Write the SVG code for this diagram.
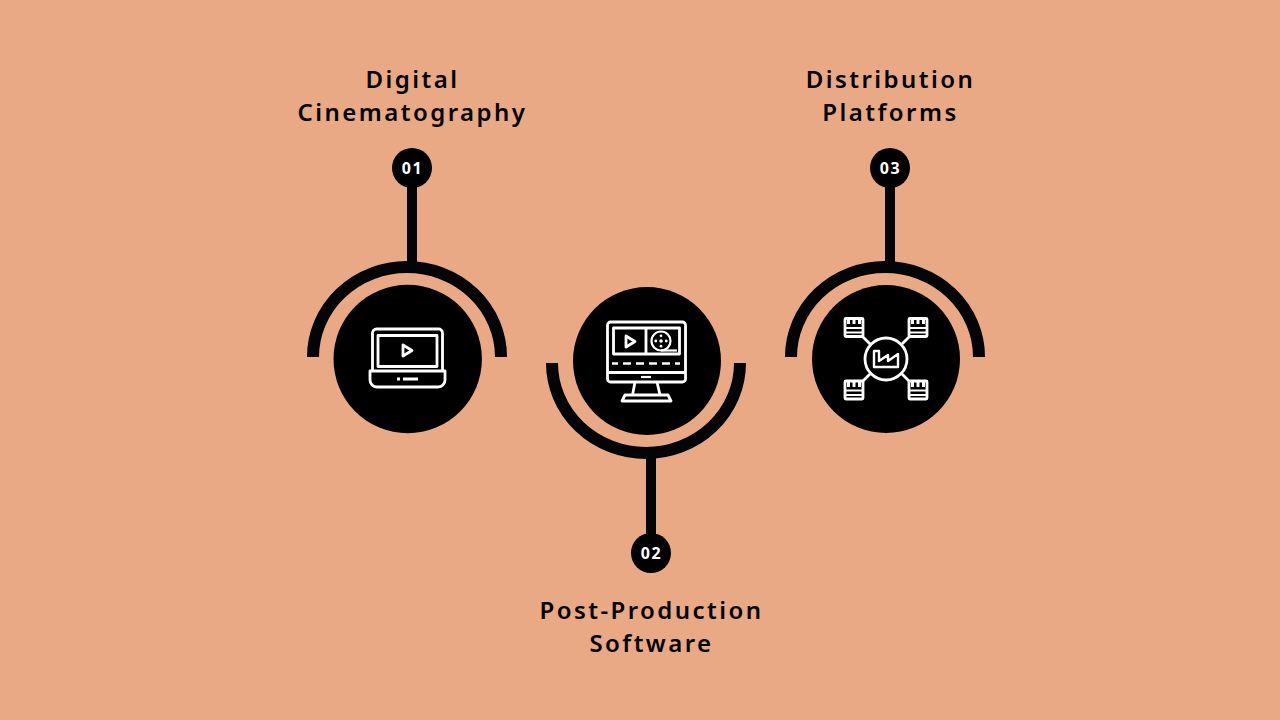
<svg xmlns="http://www.w3.org/2000/svg" width="1280" height="720" viewBox="0 0 1280 720">
<style>
.t{font-family:"Noto Sans","Open Sans",sans-serif;font-weight:600;font-size:24px;letter-spacing:2.45px;text-anchor:middle;fill:#000}
.n{font-family:"Noto Sans","Open Sans",sans-serif;font-weight:700;font-size:16px;letter-spacing:1.6px;text-anchor:middle;fill:#fff}
.i{fill:none;stroke:#fff;stroke-width:2.8;stroke-linejoin:round}
.a{fill:none;stroke:#020406;stroke-width:12}
.s{stroke:#020406;stroke-width:10}
.d{fill:#fff;stroke:none}
</style>
<rect width="1280" height="720" fill="#e9a985"/>
<g id="connectors">
<line class="s" x1="412" y1="185" x2="412" y2="265"/>
<line class="s" x1="651" y1="456" x2="651" y2="536"/>
<line class="s" x1="890" y1="185" x2="890" y2="265"/>
<path class="a" d="M313 357A94 90 0 0 1 501 357"/>
<path class="a" d="M552 363A94 90 0 0 0 740 363"/>
<path class="a" d="M791 357A94 90 0 0 1 979 357"/>
</g>
<g id="node-01">
<text class="t" x="412.500" y="88">Digital</text>
<text class="t" x="412.500" y="121">Cinematography</text>
<circle cx="412" cy="168" r="20"/>
<text class="n" x="412.500" y="174">01</text>
<circle cx="407.700" cy="359" r="74.200"/>
<g class="i">
<path d="M372.500 371V333a4 4 0 0 1 4-4H438a4 4 0 0 1 4.500 4V371"/>
<rect x="378" y="335.500" width="59" height="31"/>
<path d="M370 371H445V380a7 7 0 0 1-7 7H377a7 7 0 0 1-7-7Z"/>
<path d="M403 345L412 350.500L403 356Z"/>
<path d="M397 379H400M403 379H418"/>
</g>
</g>
<g id="node-02">
<text class="t" x="651.500" y="619">Post-Production</text>
<text class="t" x="651.500" y="652">Software</text>
<circle cx="651" cy="553" r="20"/>
<text class="n" x="651.500" y="559">02</text>
<circle cx="647" cy="361" r="74"/>
<g class="i">
<rect x="607.500" y="322" width="78" height="60" rx="3"/>
<rect x="613.500" y="328" width="66" height="26"/>
<path d="M646 328V354M607 372.500H685"/>
<path d="M626 336L635 341.500L626 347Z"/>
<circle cx="661" cy="341" r="9.500" stroke-width="2.200"/>
<path d="M661 350.500H677" stroke-width="2.200"/>
<path d="M612 363.500H618M623 363.500H631M636 363.500H644M649 363.500H657M662 363.500H670M675 363.500H680" stroke-width="2.400"/>
<path d="M641 377H651" stroke-width="2.200"/>
<path d="M635 382L632.500 395H660L657 382M632.500 395H625L622 401H671L668 395H660"/>
</g>
<g class="d">
<circle cx="661" cy="341" r="1.800"/><circle cx="661" cy="335.800" r="1.400"/><circle cx="661" cy="346.200" r="1.400"/><circle cx="655.800" cy="341" r="1.400"/><circle cx="666.200" cy="341" r="1.400"/>
</g>
</g>
<g id="node-03">
<text class="t" x="890.500" y="88">Distribution</text>
<text class="t" x="890.500" y="121">Platforms</text>
<circle cx="890" cy="168" r="20"/>
<text class="n" x="890.500" y="174">03</text>
<circle cx="886" cy="359" r="74"/>
<g class="i">
<circle cx="886" cy="359" r="21"/>
<path d="M874 351H879V361L888 355V361L898 354V367H874Z" stroke-width="2.400"/>
<path d="M862 336L870 344M910 336L902 344M862 382L870 374M910 382L902 374"/>
<rect x="845" y="318.500" width="18" height="18" rx="1"/><path d="M845 328H863M845 332.500H863" stroke-width="2.200"/>
<rect x="909" y="318.500" width="18" height="18" rx="1"/><path d="M909 328H927M909 332.500H927" stroke-width="2.200"/>
<rect x="845" y="381" width="18" height="18" rx="1"/><path d="M845 390.500H863M845 395H863" stroke-width="2.200"/>
<rect x="909" y="381" width="18" height="18" rx="1"/><path d="M909 390.500H927M909 395H927" stroke-width="2.200"/>
</g>
<g class="d">
<rect x="847" y="319" width="3" height="5"/><rect x="852.500" y="319" width="3" height="5"/><rect x="858" y="319" width="3" height="5"/>
<rect x="911" y="319" width="3" height="5"/><rect x="916.500" y="319" width="3" height="5"/><rect x="922" y="319" width="3" height="5"/>
<rect x="847" y="382" width="3" height="5"/><rect x="852.500" y="382" width="3" height="5"/><rect x="858" y="382" width="3" height="5"/>
<rect x="911" y="382" width="3" height="5"/><rect x="916.500" y="382" width="3" height="5"/><rect x="922" y="382" width="3" height="5"/>
</g>
</g>
</svg>
